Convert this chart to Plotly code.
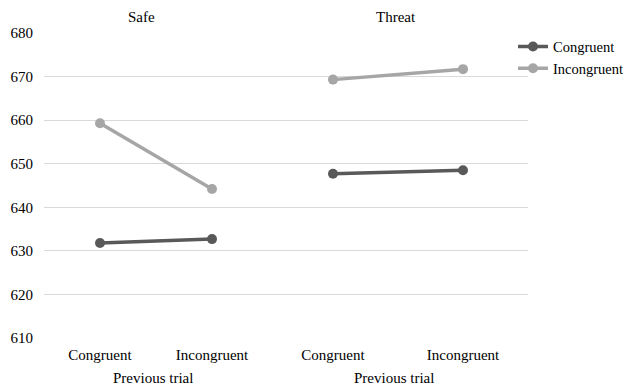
import plotly.graph_objects as go

categories = ["Congruent", "Incongruent"]
safe_congruent = [631.8, 632.7]
safe_incongruent = [659.3, 644.2]
threat_congruent = [647.7, 648.5]
threat_incongruent = [669.3, 671.7]
panel_titles = ["Safe", "Threat"]
series_names = ["Congruent", "Incongruent"]
y_ticks = [610, 620, 630, 640, 650, 660, 670, 680]

DARK = "#595959"
LIGHT = "#a6a6a6"
FONT = "Liberation Serif, Times New Roman, serif"

fig = go.Figure()

def add(x_axis, y_axis, ys, name, color, show):
    fig.add_trace(go.Scatter(
        x=categories, y=ys, name=name, mode="lines+markers",
        line=dict(color=color, width=3.5),
        marker=dict(color=color, size=10),
        xaxis=x_axis, yaxis=y_axis, legendgroup=name, showlegend=show,
    ))

add("x", "y", safe_congruent, series_names[0], DARK, True)
add("x", "y", safe_incongruent, series_names[1], LIGHT, True)
add("x2", "y2", threat_congruent, series_names[0], DARK, False)
add("x2", "y2", threat_incongruent, series_names[1], LIGHT, False)

PW = 484
split = 224 / PW
axis_common = dict(type="category", range=[-0.5, 1.5], showgrid=False,
                   zeroline=False, showline=False, ticks="",
                   tickfont=dict(family=FONT, size=15, color="#000"),
                   ticklabelstandoff=6)
yaxis_common = dict(range=[610, 680], tickvals=y_ticks, showgrid=True,
                    gridcolor="#d9d9d9", gridwidth=1, zeroline=False,
                    showline=False, ticks="")

fig.update_layout(
    width=624, height=389,
    margin=dict(l=44, r=96, t=33, b=51, autoexpand=False),
    paper_bgcolor="white", plot_bgcolor="white",
    font=dict(family=FONT, size=15, color="#000"),
    xaxis=dict(domain=[0, split], **axis_common),
    xaxis2=dict(domain=[split, 1], anchor="y2", **axis_common),
    yaxis=dict(tickfont=dict(family=FONT, size=15, color="#000"),
               ticklabelstandoff=10, **yaxis_common),
    yaxis2=dict(anchor="x2", showticklabels=False, **yaxis_common),
    legend=dict(x=(513 - 44) / PW, xanchor="left", y=1.008, yanchor="top",
                font=dict(family=FONT, size=14.5, color="#000"),
                itemwidth=30, tracegroupgap=0, bgcolor="rgba(0,0,0,0)"),
    showlegend=True,
)

annots = [
    dict(text=panel_titles[0], x=141, y=17),
    dict(text=panel_titles[1], x=396, y=17),
    dict(text="Previous trial", x=153, y=378),
    dict(text="Previous trial", x=394, y=378),
]
for a in annots:
    fig.add_annotation(
        text=a["text"], xref="paper", yref="paper",
        x=(a["x"] - 44) / PW, y=1 - (a["y"] - 33) / 305,
        xanchor="center", yanchor="middle", showarrow=False,
        font=dict(family=FONT, size=15, color="#000"),
    )

fig.write_html("out.html", config={"displayModeBar": False})
with open("out.html", "r", encoding="utf-8") as f:
    html = f.read()
html = html.replace("<head>", "<head><style>html,body{margin:0;padding:0;overflow:hidden;}</style>", 1)
with open("out.html", "w", encoding="utf-8") as f:
    f.write(html)
